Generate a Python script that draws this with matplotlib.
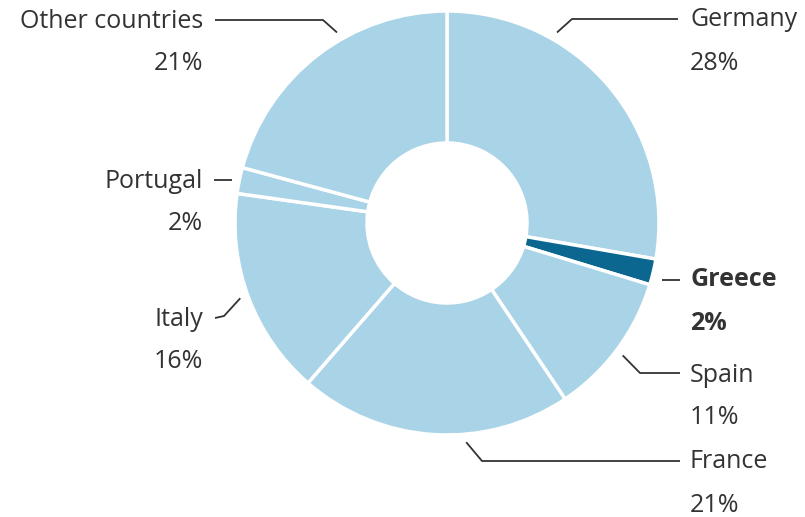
import numpy as np
import matplotlib.pyplot as plt

countries = ["Germany", "Greece", "Spain", "France", "Italy", "Portugal", "Other countries"]
shares = [28, 2, 11, 21, 16, 2, 21]
pct_labels = ["28%", "2%", "11%", "21%", "16%", "2%", "21%"]

W, H = 805, 517
light = "#a9d4e7"
dark = "#0b6690"
txt = "#333333"

fig = plt.figure(figsize=(W / 100, H / 100), dpi=100)
ax = fig.add_axes([0, 0, 1, 1])


def py(y):
    # pixel row -> data y
    return H - y


cx, cy, R = 447, py(223), 212
colors = [dark if c == "Greece" else light for c in countries]
wedges, _ = ax.pie(shares, colors=colors, startangle=90, counterclock=False,
                   center=(cx, cy), radius=R, frame=True,
                   wedgeprops=dict(width=R - 80, edgecolor="white", linewidth=2.5))
ax.set_xlim(0, W)
ax.set_ylim(0, H)
ax.set_aspect("equal")
ax.axis("off")

# label layout: anchor angle on the ring, elbow/line end, text position, side
layout = {
    "Germany":         dict(ang=60,  elbow=(572, 19), end=(678, 19), tx=690, ty=20, ha="left"),
    "Greece":          dict(ang=None, elbow=(662, 280), end=(680, 280), tx=690, ty=280, ha="left"),
    "Spain":           dict(ang=-37, elbow=(640, 373), end=(680, 373), tx=690, ty=375, ha="left"),
    "France":          dict(ang=-85, elbow=(482, 461), end=(680, 461), tx=690, ty=462, ha="left"),
    "Italy":           dict(ang=200, elbow=(224, 316), end=(215, 318), tx=203, ty=319, ha="right"),
    "Portugal":        dict(ang=None, elbow=(232, 180), end=(214, 180), tx=203, ty=181, ha="right"),
    "Other countries": dict(ang=120, elbow=(323, 20), end=(215, 20), tx=203, ty=21, ha="right"),
}

for name, pct in zip(countries, pct_labels):
    L = layout[name]
    xs, ys = [], []
    if L["ang"] is not None:
        a = np.deg2rad(L["ang"])
        xs.append(cx + 220 * np.cos(a))
        ys.append(cy + 220 * np.sin(a))
    xs += [L["elbow"][0], L["end"][0]]
    ys += [py(L["elbow"][1]), py(L["end"][1])]
    ax.plot(xs, ys, color=txt, lw=1.3, solid_capstyle="butt")
    weight = "bold" if name == "Greece" else "normal"
    ax.text(L["tx"], py(L["ty"]), name, ha=L["ha"], va="center", fontsize=18,
            family="Open Sans", color=txt, fontweight=weight)
    ax.text(L["tx"], py(L["ty"] + 43), pct, ha=L["ha"], va="center", fontsize=18,
            family="Open Sans", color=txt, fontweight=weight)

fig.savefig("out.png", dpi=100, facecolor="white")
